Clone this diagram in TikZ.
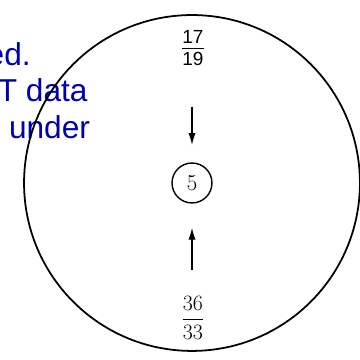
\documentclass[tikz,border=0pt]{standalone}
\usepackage{amsmath}
\usepackage{fontspec}
\setsansfont{Liberation Sans}
\usetikzlibrary{arrows.meta}
\definecolor{noteBlue}{HTML}{0000AA}
\definecolor{ringInk}{HTML}{000000}

\begin{document}
\begin{tikzpicture}[
  x=1cm,y=1cm,
  every node/.style={text=ringInk,align=center,outer sep=0pt},
  note/.style={anchor=base west,inner sep=0pt,text=noteBlue,font=\sffamily\fontsize{25}{29}\selectfont},
  frac/.style={inner sep=0pt,font=\fontsize{16}{19}\selectfont},
  ring/.style={circle,draw=ringInk,line width=1.4pt,inner sep=0pt},
  flow/.style={-{Latex[length=3.3mm,width=2mm]},line width=1pt}
]
\path[use as bounding box] (0,0) rectangle (10,10);
% cut-off note on the left
\node[note] (l1) at (-0.37,8.19) {ed.};
\node[note] (l2) at (-0.06,7.17) {T data};
\node[note] (l3) at (0.25,6.14) {under};
% outer ring and centre
\node[ring,minimum size=9.33cm] (outer) at (5.333,4.917) {};
\node[ring,line width=1.1pt,minimum size=1.11cm,font=\fontsize{18}{21}\selectfont] (mid) at (5.333,4.917) {5};
% fractions
\node[frac,font=\fontsize{15}{18}\selectfont] (top) at (5.361,8.667)
  {$\genfrac{}{}{0.6pt}{1}{\textstyle\mathsf{17}\rule[-2.5pt]{0pt}{1pt}}{\textstyle\mathsf{19}\rule{0pt}{12.5pt}}$};
\node[frac,font=\fontsize{17}{20}\selectfont] (bot) at (5.361,1.167) {$\displaystyle\frac{36}{33}$};
\draw[flow,shorten <=1.15cm,shorten >=0.5cm] (top.south -| mid) -- (mid.north);
\draw[flow,shorten <=0.72cm,shorten >=0.69cm] (bot.north -| mid) -- (mid.south);
\end{tikzpicture}
\end{document}
